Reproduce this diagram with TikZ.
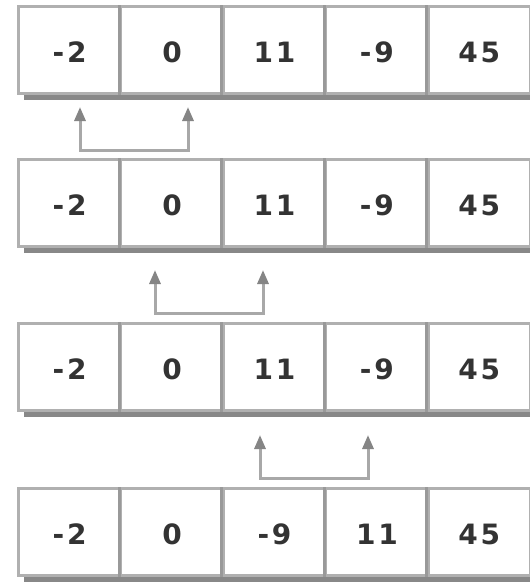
\documentclass[tikz,border=0pt]{standalone}
\usepackage{fontspec}
\newfontfamily\cellfont[LetterSpace=10]{DejaVu Sans Bold}
\usetikzlibrary{arrows.meta}
\definecolor{frameg}{HTML}{B0B0B0}
\definecolor{divg}{HTML}{999999}
\definecolor{shadg}{HTML}{888888}
\definecolor{lineg}{HTML}{A8A8A8}
\definecolor{headg}{HTML}{858585}
\definecolor{txtg}{HTML}{333333}
\tikzset{
  cell/.style={draw=frameg, line width=3pt, minimum width=102.4pt, minimum height=87pt,
    inner sep=0pt, font=\cellfont\fontsize{28}{28}\selectfont, text=txtg, text depth=0pt, anchor=north west},
  shadowbar/.style={draw=shadg, line width=7pt},
  divline/.style={draw=divg, line width=3pt},
  swapline/.style={draw=lineg, line width=3pt,
    {Triangle[width=11pt,length=14pt,color=headg]}-{Triangle[width=11pt,length=14pt,color=headg]}}
}
\begin{document}
\begin{tikzpicture}[x=1pt,y=-1pt]
\useasboundingbox (0,0) rectangle (530,582);
\fill[white] (0,0) rectangle (530,582);
% rows
\foreach \r/\top/\a/\b/\c/\d/\e in {1/5/-2/0/11/-9/45, 2/158/-2/0/11/-9/45, 3/322/-2/0/11/-9/45, 4/487/-2/0/-9/11/45}{
  \draw[shadowbar] (24,\top+91) -- (536,\top+91);
  \node[cell] (r\r c1) at (17,\top) {\raisebox{-5pt}{\a}};
  \node[cell] (r\r c2) at (119.4,\top) {\raisebox{-5pt}{\b}};
  \node[cell] (r\r c3) at (221.8,\top) {\raisebox{-5pt}{\c}};
  \node[cell] (r\r c4) at (324.2,\top) {\raisebox{-5pt}{\d}};
  \node[cell] (r\r c5) at (426.6,\top) {\raisebox{-5pt}{\e}};
  \foreach \j in {2,3,4,5}{
    \draw[divline] (r\r c\j.north west) -- (r\r c\j.south west);
  }
}
% swap brackets
\coordinate (s1a) at (80,107);  \coordinate (s1b) at (188,107); \coordinate (k1) at (0,150);
\coordinate (s2a) at (155,270); \coordinate (s2b) at (263,270); \coordinate (k2) at (0,313);
\coordinate (s3a) at (260,435); \coordinate (s3b) at (368,435); \coordinate (k3) at (0,478);
\draw[swapline] (s1a) -- (s1a |- k1) -- (s1b |- k1) -- (s1b);
\draw[swapline] (s2a) -- (s2a |- k2) -- (s2b |- k2) -- (s2b);
\draw[swapline] (s3a) -- (s3a |- k3) -- (s3b |- k3) -- (s3b);
\end{tikzpicture}
\end{document}
